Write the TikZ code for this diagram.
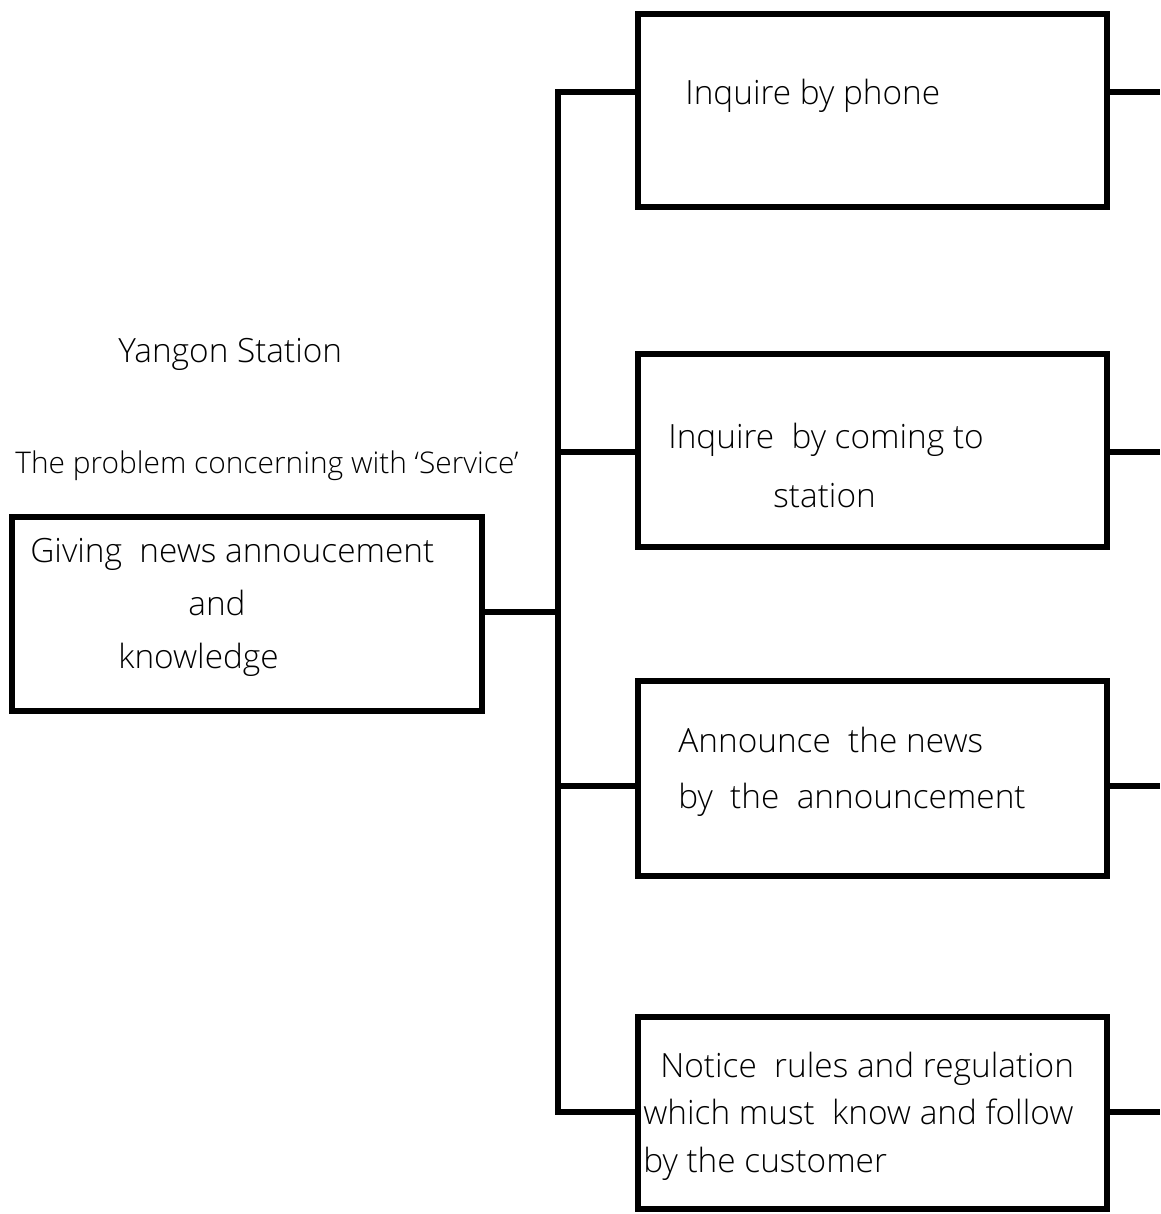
\documentclass[tikz,border=0pt]{standalone}
\usepackage{fontspec}
\setsansfont{Open Sans Light}[BoldFont=Open Sans]
\begin{document}
\begin{tikzpicture}[x=0.02cm,y=-0.02cm,
  box/.style={draw, line width=3.2pt, rectangle, inner sep=0pt, anchor=center},
  wire/.style={line width=3.2pt, line join=miter},
  txt/.style={font=\sffamily\fontsize{19}{22}\selectfont, anchor=base west, inner sep=0pt},
  small/.style={txt, font=\sffamily\fontsize{17}{20}\selectfont}]
\useasboundingbox (0,0) rectangle (1160,1214);

% main box on the left
\node[box, minimum width=9.4cm, minimum height=3.88cm] (root) at (247,614) {};
% four branch boxes on the right
\node[box, minimum width=9.38cm, minimum height=3.86cm] (b1) at (872.5,110.5) {};
\node[box, minimum width=9.38cm, minimum height=3.86cm] (b2) at (872.5,450.5) {};
\node[box, minimum width=9.38cm, minimum height=3.9cm] (b3) at (872.5,778.5) {};
\node[box, minimum width=9.38cm, minimum height=3.84cm] (b4) at (872.5,1113) {};

% titles
\node[txt] (title) at (118,362) {Yangon Station};
\node[small] (sub) at (15,473) {The problem concerning with `Service'};

% labels
\node[txt] (r1) at (30,562) {Giving\ \ news annoucement};
\node[txt] (r2) at (188,615) {and};
\node[txt] (r3) at (118,668) {knowledge};

\node[txt] (t1) at (685,104) {Inquire by phone};
\node[txt] (t2a) at (668,448) {Inquire\ \ by coming to};
\node[txt] (t2b) at (773,507) {station};
\node[txt] (t3a) at (678,752) {Announce\ \ the news};
\node[txt] (t3b) at (678,808) {by\ \ the\ \ announcement};
\node[txt] (t4a) at (660,1077) {Notice\ \ rules and regulation};
\node[txt] (t4b) at (643,1124) {which must\ \ know and follow};
\node[txt] (t4c) at (643,1172) {by the customer};

% junction points on the spine and free ends on the right
\coordinate (jA) at (558,92);
\coordinate (jB) at (558,452);
\coordinate (jC) at (558,786);
\coordinate (jD) at (558,1112);
\coordinate (jR) at (558,612);
\coordinate (eA) at (1160,92);
\coordinate (eB) at (1160,452);
\coordinate (eC) at (1160,786);
\coordinate (eD) at (1160,1112);

% spine and branches
\draw[wire] (jA -| b1.west) -- (jA) -- (jD) -- (jD -| b4.west);
\draw[wire] (jB) -- (jB -| b2.west);
\draw[wire] (jC) -- (jC -| b3.west);
\draw[wire] (jR -| root.east) -- (jR);

% open ends on the right
\draw[wire] (eA -| b1.east) -- (eA);
\draw[wire] (eB -| b2.east) -- (eB);
\draw[wire] (eC -| b3.east) -- (eC);
\draw[wire] (eD -| b4.east) -- (eD);
\end{tikzpicture}
\end{document}
